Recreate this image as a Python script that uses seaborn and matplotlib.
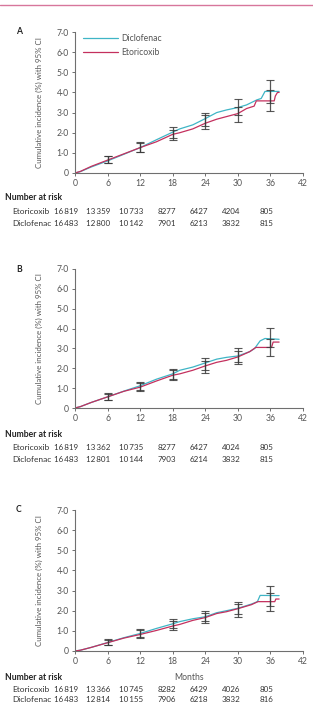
import matplotlib
matplotlib.use("Agg")
import matplotlib.pyplot as plt
import matplotlib.transforms as mtransforms
from matplotlib.lines import Line2D
import seaborn as sns
import pandas as pd

# ---------------- data ----------------
groups = ["Diclofenac", "Etoricoxib"]
panel_letters = ["A", "B", "C"]
x_ticks = [0, 6, 12, 18, 24, 30, 36, 42]
y_ticks = [0, 1, 2, 3, 4, 5, 6, 7]
y_tick_labels = ["0", "1·0", "2·0", "3·0", "4·0", "5·0", "6·0", "7·0"]
ci_months = [6, 12, 18, 24, 30, 36]
risk_months = [0, 6, 12, 18, 24, 30, 36]

# Panel A
a_dic_t = [0, 1, 3, 6, 9, 12, 15, 18, 19.3, 21.7, 24, 26.1, 27.9, 30, 31.6, 33.5, 34.3, 35.0, 37.6]
a_dic_v = [0, 0.07, 0.3, 0.6, 0.93, 1.26, 1.65, 2.03, 2.19, 2.39, 2.7, 3.0, 3.13, 3.25, 3.38, 3.63, 3.7, 4.05, 4.05]
a_eto_t = [0, 1, 3, 6, 9, 12, 15, 18, 19.3, 21.7, 24, 26.1, 27.9, 30, 31.6, 33.0, 33.4, 36.7, 36.9, 37.3, 37.6]
a_eto_v = [0, 0.08, 0.33, 0.64, 0.95, 1.26, 1.55, 1.92, 2.0, 2.19, 2.47, 2.67, 2.8, 2.95, 3.2, 3.32, 3.58, 3.58, 3.82, 4.0, 4.0]
a_dic_lo = [0.5, 1.06, 1.76, 2.34, 2.88, 3.47]
a_dic_hi = [0.85, 1.53, 2.27, 3.0, 3.66, 4.61]
a_eto_lo = [0.5, 1.02, 1.63, 2.2, 2.52, 3.08]
a_eto_hi = [0.83, 1.48, 2.14, 2.87, 3.27, 4.1]
a_risk_eto = ["16\u2009819", "13\u2009359", "10\u2009733", "8277", "6427", "4204", "805"]
a_risk_dic = ["16\u2009483", "12\u2009800", "10\u2009142", "7901", "6213", "3832", "815"]

# Panel B
b_dic_t = [0, 1, 3, 6, 9, 12, 15, 18, 19.3, 21.7, 24, 26.1, 27.9, 30, 32.2, 33.1, 34.1, 35.0, 37.6]
b_dic_v = [0, 0.07, 0.28, 0.56, 0.85, 1.12, 1.45, 1.72, 1.9, 2.06, 2.27, 2.46, 2.55, 2.62, 2.84, 3.0, 3.38, 3.5, 3.46]
b_eto_t = [0, 1, 3, 6, 9, 12, 15, 18, 19.3, 21.7, 24, 26.1, 27.9, 30, 32.2, 33.3, 36.2, 36.5, 37.6]
b_eto_v = [0, 0.07, 0.28, 0.56, 0.84, 1.05, 1.36, 1.65, 1.72, 1.9, 2.12, 2.3, 2.4, 2.57, 2.84, 3.05, 3.05, 3.32, 3.32]
b_dic_lo = [0.4, 0.9, 1.45, 1.91, 2.33, 3.05]
b_dic_hi = [0.74, 1.32, 1.95, 2.5, 3.0, 4.01]
b_eto_lo = [0.4, 0.85, 1.4, 1.78, 2.2, 2.62]
b_eto_hi = [0.72, 1.27, 1.9, 2.38, 2.89, 3.5]
b_risk_eto = ["16\u2009819", "13\u2009362", "10\u2009735", "8277", "6427", "4024", "805"]
b_risk_dic = ["16\u2009483", "12\u2009801", "10\u2009144", "7903", "6214", "3832", "815"]

# Panel C
c_dic_t = [0, 1, 3, 6, 9, 12, 15, 18, 19.3, 21.7, 24, 26.1, 27.9, 30, 32.5, 33.6, 34.1, 37.6]
c_dic_v = [0, 0.04, 0.18, 0.42, 0.66, 0.87, 1.12, 1.35, 1.46, 1.6, 1.7, 1.9, 2.0, 2.12, 2.33, 2.45, 2.76, 2.75]
c_eto_t = [0, 1, 3, 6, 9, 12, 15, 18, 19.3, 21.7, 24, 26.1, 27.9, 30, 32.5, 33.7, 36.8, 37.0, 37.6]
c_eto_v = [0, 0.04, 0.18, 0.41, 0.64, 0.82, 1.02, 1.24, 1.32, 1.52, 1.66, 1.86, 1.95, 2.1, 2.3, 2.45, 2.45, 2.58, 2.58]
c_dic_lo = [0.3, 0.68, 1.15, 1.49, 1.82, 2.24]
c_dic_hi = [0.58, 1.09, 1.57, 1.99, 2.45, 3.25]
c_eto_lo = [0.29, 0.64, 1.04, 1.37, 1.7, 2.0]
c_eto_hi = [0.56, 1.03, 1.48, 1.87, 2.32, 2.86]
c_risk_eto = ["16\u2009819", "13\u2009366", "10\u2009745", "8282", "6429", "4026", "805"]
c_risk_dic = ["16\u2009483", "12\u2009814", "10\u2009155", "7906", "6218", "3832", "816"]

# ---------------- style ----------------
sns.set_theme(style="ticks")
plt.rcParams["font.family"] = ["Lato", "DejaVu Sans"]

W, H = 313, 718
fig = plt.figure(figsize=(W / 100, H / 100), dpi=100)

palette = {"Diclofenac": "#3fb5c6", "Etoricoxib": "#c4305e"}

def fy(py):
    return 1 - py / H

panels = [
    dict(dt=a_dic_t, dv=a_dic_v, et=a_eto_t, ev=a_eto_v,
         dlo=a_dic_lo, dhi=a_dic_hi, elo=a_eto_lo, ehi=a_eto_hi,
         re=a_risk_eto, rd=a_risk_dic,
         top=32, bot=173, nar_y=198, row_y=(212, 223)),
    dict(dt=b_dic_t, dv=b_dic_v, et=b_eto_t, ev=b_eto_v,
         dlo=b_dic_lo, dhi=b_dic_hi, elo=b_eto_lo, ehi=b_eto_hi,
         re=b_risk_eto, rd=b_risk_dic,
         top=269, bot=408, nar_y=435, row_y=(447, 460)),
    dict(dt=c_dic_t, dv=c_dic_v, et=c_eto_t, ev=c_eto_v,
         dlo=c_dic_lo, dhi=c_dic_hi, elo=c_eto_lo, ehi=c_eto_hi,
         re=c_risk_eto, rd=c_risk_dic,
         top=510, bot=651, nar_y=678, row_y=(689, 700)),
]

left_px, right_px = 75, 303
tick_color = "#6f6f6f"
text_color = "#555555"

for i, p in enumerate(panels):
    ax = fig.add_axes([left_px / W, fy(p["bot"]), (right_px - left_px) / W,
                       (p["bot"] - p["top"]) / H])
    df = pd.concat([
        pd.DataFrame({"month": p["dt"], "inc": p["dv"], "group": "Diclofenac"}),
        pd.DataFrame({"month": p["et"], "inc": p["ev"], "group": "Etoricoxib"}),
    ], ignore_index=True)
    sns.lineplot(data=df, x="month", y="inc", hue="group", hue_order=groups,
                 palette=palette, estimator=None, errorbar=None, sort=False,
                 linewidth=0.9, ax=ax, legend=(i == 0))

    for lo, hi in ((p["dlo"], p["dhi"]), (p["elo"], p["ehi"])):
        mid = [(a + b) / 2 for a, b in zip(lo, hi)]
        err = [(b - a) / 2 for a, b in zip(lo, hi)]
        ax.errorbar(ci_months, mid, yerr=err, fmt="none", ecolor="#3a3a3a",
                    elinewidth=0.9, capsize=3.0, capthick=0.8, alpha=0.85, zorder=5)

    ax.set_xlim(0, 42)
    ax.set_ylim(0, 7)
    ax.set_xticks(x_ticks)
    ax.set_xticklabels([str(t) for t in x_ticks])
    ax.set_yticks(y_ticks)
    ax.set_yticklabels(y_tick_labels)
    sns.despine(ax=ax)
    for s in ("left", "bottom"):
        ax.spines[s].set_color(tick_color)
        ax.spines[s].set_linewidth(0.8)
    ax.tick_params(axis="both", direction="out", length=2.5, width=0.7,
                   color=tick_color, labelsize=6.2, labelcolor=text_color, pad=2)
    ax.set_ylabel("Cumulative incidence (%) with 95% CI", fontsize=5.7,
                  color=text_color)
    ax.yaxis.set_label_coords(-0.14, 0.5)
    if i == 2:
        ax.set_xlabel("Months", fontsize=6.2, color=text_color, labelpad=0)
        ax.xaxis.set_label_coords(0.5, -0.155)
    else:
        ax.set_xlabel("")

    if i == 0:
        leg = ax.legend(loc="upper left", bbox_to_anchor=(0.035, 0.985),
                        frameon=False, fontsize=6.2, handlelength=4.1,
                        handletextpad=0.3, labelspacing=0.55, borderpad=0,
                        borderaxespad=0)
        for t in leg.get_texts():
            t.set_color(text_color)
        for h in leg.get_lines():
            h.set_linewidth(0.9)

    # panel letter
    fig.text(16 / W, fy(p["top"]), panel_letters[i], fontsize=6.2,
             fontweight="bold", ha="left", va="center", color="#222222")

    # number at risk
    fig.text(5 / W, fy(p["nar_y"]), "Number at risk", fontsize=6.2,
             fontweight="bold", ha="left", va="center", color="#222222")
    trans = mtransforms.blended_transform_factory(ax.transData, fig.transFigure)
    for label, vals, ry in (("Etoricoxib", p["re"], p["row_y"][0]),
                            ("Diclofenac", p["rd"], p["row_y"][1])):
        fig.text(12 / W, fy(ry), label, fontsize=6.0, ha="left", va="center",
                 color="#333333")
        for m, v in zip(risk_months, vals):
            ax.text(m + 0.55, fy(ry), v, transform=trans, fontsize=5.8,
                    ha="right", va="center", color="#333333", clip_on=False)

# top rule
fig.add_artist(Line2D([0, 1], [fy(5), fy(5)], color="#d7769c", linewidth=1.0,
                      transform=fig.transFigure))

fig.savefig("out.png", dpi=100)
